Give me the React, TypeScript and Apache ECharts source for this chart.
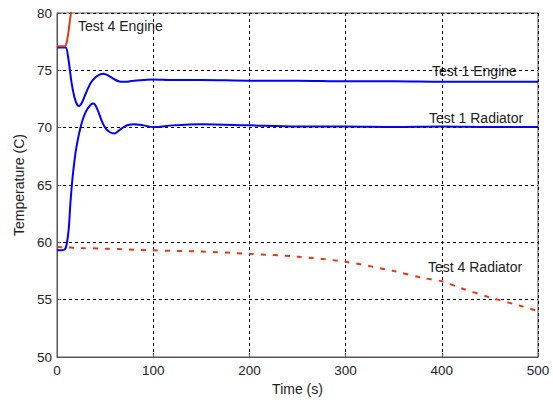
import React, { useEffect, useRef } from "react";
import * as echarts from "echarts";

const t1EngineTime = [0, 5, 9, 12, 15, 18, 21, 23, 26, 30, 35, 40, 45, 48, 52, 56, 60, 64, 68, 72, 76, 80, 90, 100, 120, 150, 200, 250, 300, 350, 400, 450, 500];
const t1EngineTemp = [77, 77, 77, 75.9, 74.0, 72.7, 72.0, 71.9, 72.2, 73.0, 73.9, 74.4, 74.65, 74.7, 74.6, 74.4, 74.2, 74.05, 74.0, 74.0, 74.05, 74.1, 74.15, 74.2, 74.15, 74.15, 74.1, 74.1, 74.05, 74.05, 74.0, 74.0, 74.0];

const t1RadTime = [0, 5, 9, 12, 14, 16, 18, 20, 23, 26, 30, 35, 38, 42, 46, 50, 55, 60, 65, 70, 75, 80, 90, 100, 120, 150, 200, 250, 300, 350, 400, 450, 500];
const t1RadTemp = [59.3, 59.3, 59.5, 61.0, 63.5, 65.5, 67.0, 68.2, 69.5, 70.5, 71.4, 72.0, 72.1, 71.6, 70.7, 70.0, 69.6, 69.5, 69.8, 70.1, 70.25, 70.3, 70.2, 70.05, 70.2, 70.3, 70.2, 70.1, 70.1, 70.05, 70.1, 70.05, 70.05];

const t4EngineTime = [0, 5, 8, 10, 12, 14, 16, 20];
const t4EngineTemp = [77.1, 77.1, 77.1, 77.4, 78.4, 79.7, 80.6, 82.0];

const t4RadTime = [0, 25, 50, 100, 150, 200, 250, 300, 350, 380, 400, 420, 450, 480, 500];
const t4RadTemp = [59.6, 59.5, 59.45, 59.3, 59.2, 59.0, 58.75, 58.3, 57.5, 56.9, 56.6, 56.0, 55.2, 54.5, 54.0];

const xTicks = [0, 100, 200, 300, 400, 500];
const yTicks = [50, 55, 60, 65, 70, 75, 80];

const zip = (a: number[], b: number[]) => a.map((v, i) => [v, b[i]]);

export default function App() {
  const ref = useRef<HTMLDivElement>(null);
  useEffect(() => {
    if (!ref.current) return;
    const chart = echarts.init(ref.current, undefined, { renderer: "svg" });
    const font = "Liberation Sans, Arial, sans-serif";
    const labelStyle = { fontSize: 14, fontFamily: font, fill: "#222" };
    chart.setOption({
      animation: false,
      backgroundColor: "#fff",
      grid: {
        left: 57,
        right: 15,
        top: 13,
        bottom: 47,
        show: true,
        borderColor: "#555",
        borderWidth: 1,
        backgroundColor: "transparent",
      },
      xAxis: {
        type: "value",
        min: xTicks[0],
        max: xTicks[xTicks.length - 1],
        interval: 100,
        name: "Time (s)",
        nameLocation: "middle",
        nameGap: 22,
        nameTextStyle: { fontSize: 14, fontFamily: font, color: "#222" },
        axisLine: { show: true, lineStyle: { color: "#555", width: 1 } },
        axisTick: { show: true, inside: true, length: 4, lineStyle: { color: "#555" } },
        axisLabel: { fontSize: 13.5, fontFamily: font, color: "#222", margin: 6 },
        splitLine: { show: true, lineStyle: { color: "#000", type: [3, 3], width: 1 } },
      },
      yAxis: {
        type: "value",
        min: yTicks[0],
        max: yTicks[yTicks.length - 1],
        interval: 5,
        name: "Temperature (C)",
        nameLocation: "middle",
        nameGap: 30,
        nameTextStyle: { fontSize: 14, fontFamily: font, color: "#222" },
        axisLine: { show: true, lineStyle: { color: "#555", width: 1 } },
        axisTick: { show: true, inside: true, length: 4, lineStyle: { color: "#555" } },
        axisLabel: { fontSize: 13.5, fontFamily: font, color: "#222", margin: 5 },
        splitLine: { show: true, lineStyle: { color: "#000", type: [3, 3], width: 1 } },
      },
      series: [
        {
          name: "Test 1 Engine",
          type: "line",
          data: zip(t1EngineTime, t1EngineTemp),
          smooth: 0.3,
          showSymbol: false,
          lineStyle: { color: "#0000ff", width: 2 },
        },
        {
          name: "Test 1 Radiator",
          type: "line",
          data: zip(t1RadTime, t1RadTemp),
          smooth: 0.3,
          showSymbol: false,
          lineStyle: { color: "#0000ff", width: 2 },
        },
        {
          name: "Test 4 Engine",
          type: "line",
          data: zip(t4EngineTime, t4EngineTemp),
          smooth: 0.2,
          showSymbol: false,
          clip: true,
          lineStyle: { color: "#e03a10", width: 2 },
        },
        {
          name: "Test 4 Radiator",
          type: "line",
          data: zip(t4RadTime, t4RadTemp),
          smooth: 0.3,
          showSymbol: false,
          lineStyle: { color: "#e03a10", width: 2, type: [5, 7] },
        },
      ],
      graphic: [
        { type: "text", left: 78, top: 19, style: { text: "Test 4 Engine", ...labelStyle } },
        { type: "text", left: 432, top: 64, style: { text: "Test 1 Engine", ...labelStyle } },
        { type: "text", left: 429, top: 111, style: { text: "Test 1 Radiator", ...labelStyle } },
        { type: "text", left: 428, top: 260, style: { text: "Test 4 Radiator", ...labelStyle } },
      ],
    });
    return () => chart.dispose();
  }, []);
  return <div ref={ref} style={{ width: 553, height: 404, position: "absolute", left: 0, top: 0 }} />;
}
